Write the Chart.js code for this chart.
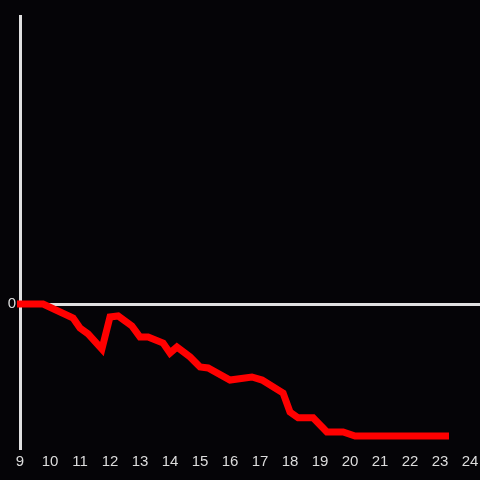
<!DOCTYPE html>
<html>
<head>
<meta charset="utf-8">
<script src="https://cdn.jsdelivr.net/npm/chart.js@4/dist/chart.umd.min.js"></script>
<style>
  html, body { margin: 0; padding: 0; background: #050407; }
  #wrap { width: 480px; height: 480px; }
</style>
</head>
<body>
<div id="wrap"><canvas id="c" width="480" height="480"></canvas></div>
<script>
const hours = [8.9, 9.77, 10.77, 11.0, 11.27, 11.73, 12.0, 12.27, 12.73, 13.0, 13.27, 13.77, 14.0, 14.23, 14.67, 15.0, 15.27, 16.0, 16.73, 17.07, 17.77, 18.0, 18.27, 18.77, 19.23, 19.77, 20.17, 23.3];
const values = [0, 0, -0.097, -0.167, -0.208, -0.3125, -0.09, -0.083, -0.153, -0.229, -0.229, -0.271, -0.34, -0.299, -0.368, -0.4375, -0.444, -0.528, -0.507, -0.528, -0.618, -0.75, -0.79, -0.79, -0.889, -0.889, -0.917, -0.917];
const xTicks = [9, 10, 11, 12, 13, 14, 15, 16, 17, 18, 19, 20, 21, 22, 23, 24];
const xRange = [9, 24.333];
const yRange = [-1, 2];
const yTicks = [0];
const yTickLabels = ["0"];

const points = hours.map((h, i) => ({x: h, y: values[i]}));

new Chart(document.getElementById('c'), {
  type: 'line',
  data: {
    datasets: [{
      data: points,
      borderColor: '#ff0000',
      borderWidth: 7,
      pointRadius: 0,
      fill: false,
      tension: 0,
      clip: false,
      borderJoinStyle: 'miter'
    }]
  },
  options: {
    responsive: false,
    animation: false,
    events: [],
    layout: { padding: { top: 16, right: 0, left: 0, bottom: 0 } },
    plugins: { legend: { display: false }, tooltip: { enabled: false } },
    scales: {
      x: {
        type: 'linear',
        min: xRange[0],
        max: xRange[1],
        afterBuildTicks: s => { s.ticks = xTicks.map(v => ({value: v})); },
        afterFit: s => { s.height = 32; s.paddingRight = 0; s.paddingLeft = 0; },
        grid: { display: false, drawTicks: false },
        border: { display: false },
        ticks: {
          autoSkip: false,
          maxRotation: 0,
          padding: 5,
          color: '#dcdcdc',
          font: { family: 'Liberation Sans', size: 15 }
        }
      },
      y: {
        type: 'linear',
        min: yRange[0],
        max: yRange[1],
        afterBuildTicks: s => { s.ticks = yTicks.map(v => ({value: v})); },
        afterFit: s => { s.width = 20; s.paddingTop = 0; s.paddingBottom = 0; },
        grid: {
          drawTicks: false,
          color: '#e0e0e0',
          lineWidth: 3
        },
        border: { display: true, color: '#e0e0e0', width: 3 },
        ticks: {
          padding: 4,
          color: '#dcdcdc',
          font: { family: 'Liberation Sans', size: 15 },
          callback: (v, i) => yTickLabels[i]
        }
      }
    }
  }
});
</script>
</body>
</html>
